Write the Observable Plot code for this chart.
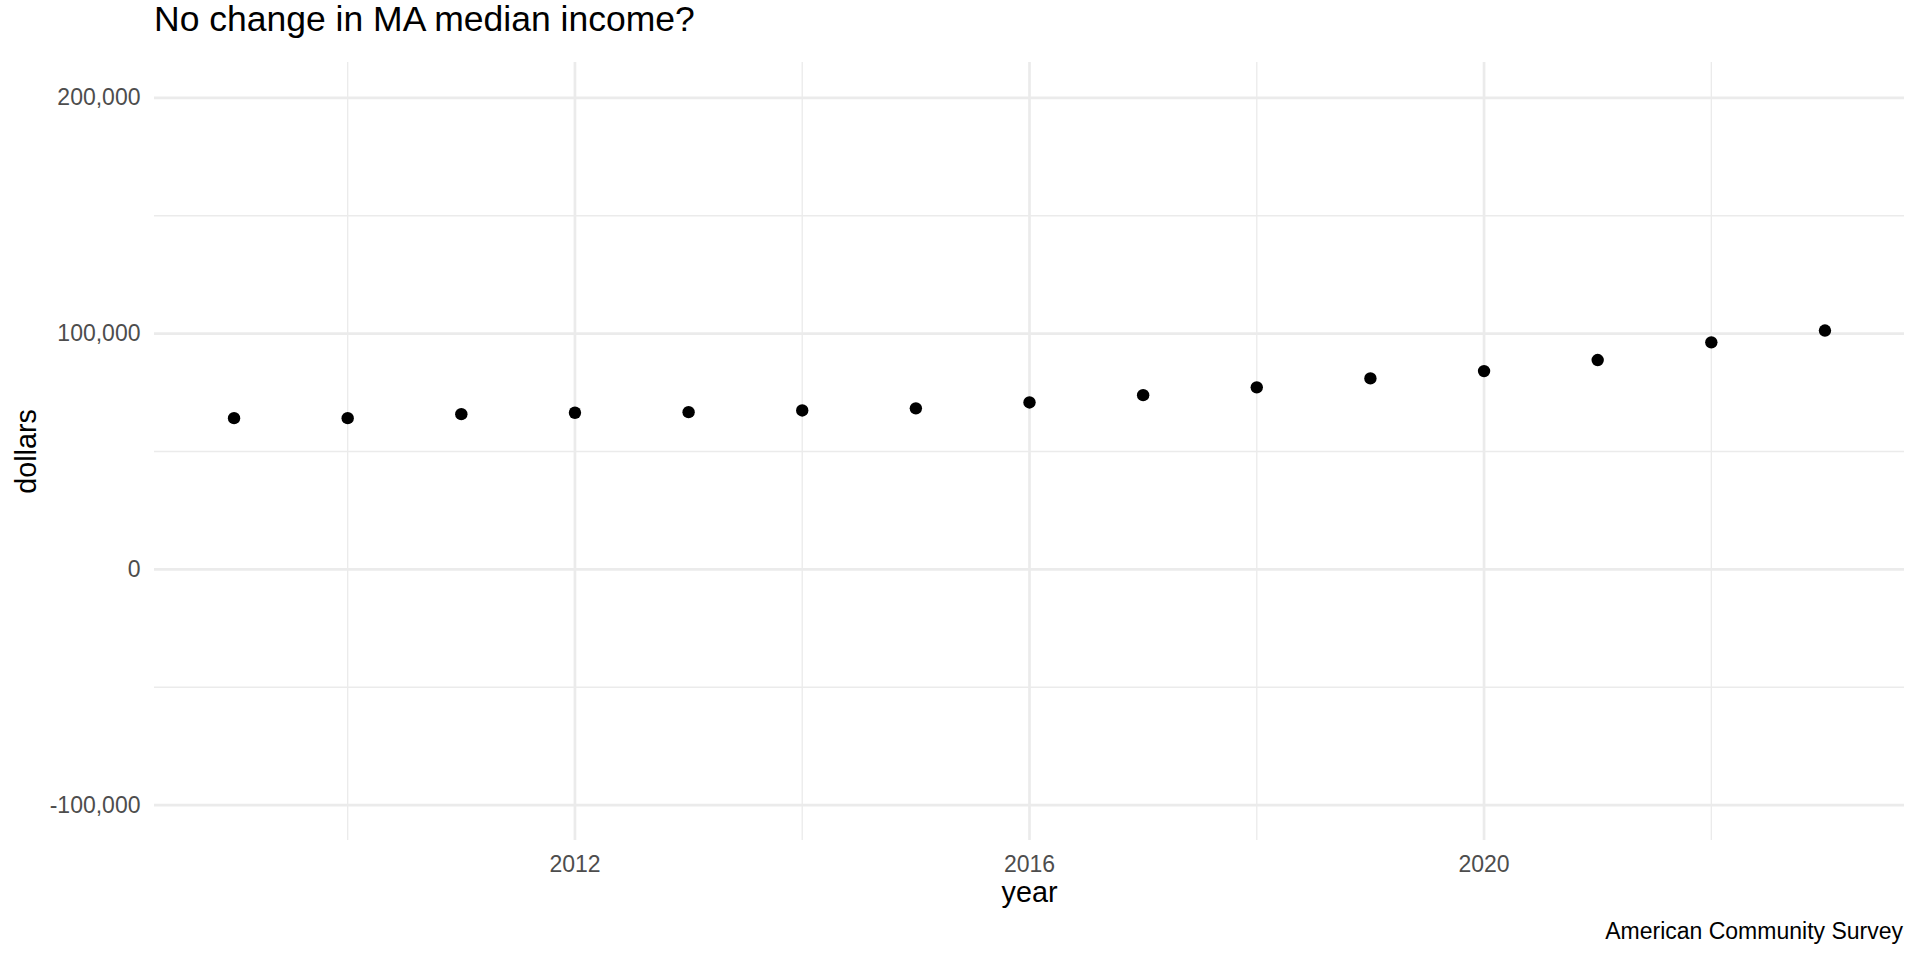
<!DOCTYPE html>
<html>
<head>
<meta charset="utf-8">
<script src="https://cdn.jsdelivr.net/npm/d3@7"></script>
<script src="https://cdn.jsdelivr.net/npm/@observablehq/plot@0.6"></script>
<style>
  html, body { margin: 0; padding: 0; background: #fff; }
  body { width: 1920px; height: 960px; position: relative; overflow: hidden; font-family: "Liberation Sans", Arial, Helvetica, sans-serif; }
  #title { position: absolute; left: 154px; top: 2px; font-size: 35.5px; color: #000; line-height: 1; white-space: nowrap; }
  #chart { position: absolute; left: 0; top: 50px; }
  #caption { position: absolute; right: 17px; top: 920px; font-size: 23px; color: #000; line-height: 1; white-space: nowrap; }
</style>
</head>
<body>
<div id="title">No change in MA median income?</div>
<div id="chart"></div>
<div id="caption">American Community Survey</div>
<script>
const years = [2009, 2010, 2011, 2012, 2013, 2014, 2015, 2016, 2017, 2018, 2019, 2020, 2021, 2022, 2023];
const dollars = [64150, 64150, 65850, 66440, 66700, 67400, 68300, 70800, 73900, 77200, 81000, 84100, 88800, 96300, 101300];
const xMajorTicks = [2012, 2016, 2020];
const xMinorTicks = [2010, 2014, 2018, 2022];
const yMajorTicks = [-100000, 0, 100000, 200000];
const yMinorTicks = [-50000, 50000, 150000];
const xLabel = "year";
const yLabel = "dollars";

const data = years.map((y, i) => ({year: y, dollars: dollars[i]}));
const fmtY = d => d3.format(",")(d).replace("\u2212", "-");

const chart = Plot.plot({
  width: 1920,
  height: 870,
  marginTop: 12,
  marginBottom: 80,
  marginLeft: 154,
  marginRight: 16,
  style: {fontFamily: '"Liberation Sans", Arial, Helvetica, sans-serif', fontSize: "23px", background: "#fff", color: "#000"},
  x: {domain: [2008.3, 2023.7]},
  y: {domain: [-115000, 215000]},
  marks: [
    Plot.ruleX(xMinorTicks, {stroke: "#ebebeb", strokeWidth: 1.35}),
    Plot.ruleY(yMinorTicks, {stroke: "#ebebeb", strokeWidth: 1.35}),
    Plot.ruleX(xMajorTicks, {stroke: "#ebebeb", strokeWidth: 2.7}),
    Plot.ruleY(yMajorTicks, {stroke: "#ebebeb", strokeWidth: 2.7}),
    Plot.axisY({ticks: yMajorTicks, tickSize: 0, tickPadding: 14, tickFormat: fmtY, label: null, fill: "#4d4d4d", fontSize: 23}),
    Plot.axisX({ticks: xMajorTicks, tickSize: 0, tickPadding: 15, tickFormat: d3.format("d"), label: null, fill: "#4d4d4d", fontSize: 23}),
    Plot.text([yLabel], {frameAnchor: "left", dx: -128, rotate: -90, textAnchor: "middle", lineAnchor: "middle", fontSize: 28.75, fill: "#000"}),
    Plot.text([xLabel], {frameAnchor: "bottom", dy: 52, textAnchor: "middle", lineAnchor: "middle", fontSize: 28.75, fill: "#000"}),
    Plot.dot(data, {x: "year", y: "dollars", r: 6.2, fill: "#000", stroke: "none"})
  ]
});
document.getElementById("chart").appendChild(chart);
</script>
</body>
</html>
